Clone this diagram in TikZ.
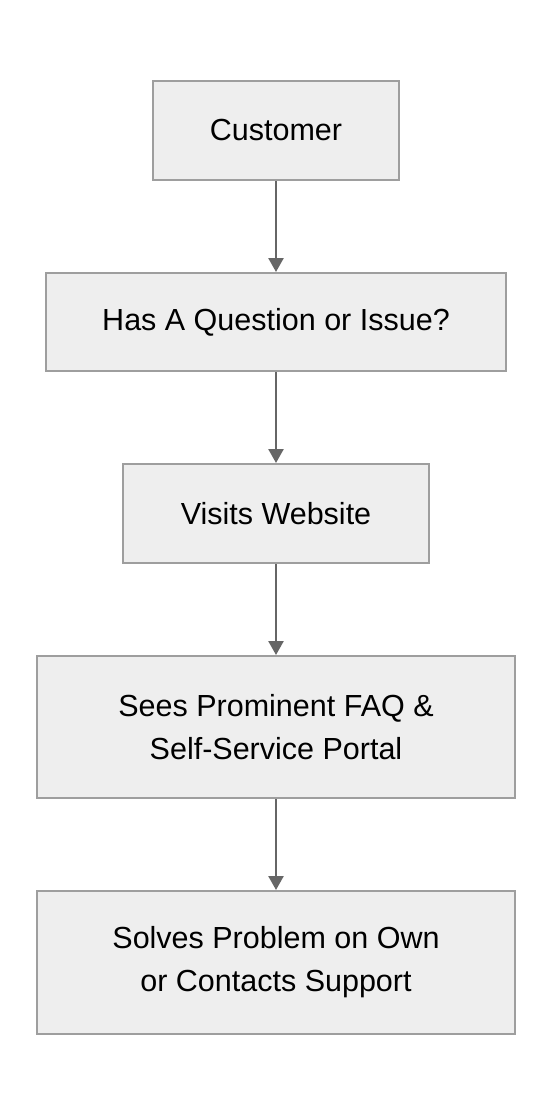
\documentclass[tikz,border=0pt]{standalone}
\usepackage{fontspec}
\setmainfont{Liberation Sans}
\usetikzlibrary{arrows.meta}
\definecolor{boxfill}{HTML}{EEEEEE}
\definecolor{boxline}{HTML}{9E9E9E}
\definecolor{arrowline}{HTML}{666666}
\def\stepnode{\node[draw=boxline,fill=boxfill,line width=2pt,align=center,inner sep=0pt,font=\fontsize{30.5}{43}\selectfont]}
\def\drawflow{\draw[color=arrowline, line width=2.5pt, -{Triangle[width=15pt,length=14pt]}]}

\begin{document}
\begin{tikzpicture}[x=1pt,y=-1pt]
\useasboundingbox (0,0) rectangle (552,1116);

% ---------- the steps, top to bottom
\stepnode[minimum width=246pt,minimum height=99pt] (customer) at (276,130.5) {Customer};
\stepnode[minimum width=460pt,minimum height=98pt] (question) at (276,322) {Has A Question or Issue?};
\stepnode[minimum width=306pt,minimum height=99pt] (website) at (276,513.5) {Visits Website};
\stepnode[minimum width=478pt,minimum height=142pt] (faq) at (276,727) {Sees Prominent FAQ \&\\ Self-Service Portal};
\stepnode[minimum width=478pt,minimum height=143pt] (solve) at (276,962.5) {Solves Problem on Own\\ or Contacts Support};

% ---------- arrows between the steps
\drawflow (customer) to (question);
\drawflow (question) to (website);
\drawflow (website) to (faq);
\drawflow (faq) to (solve);
\end{tikzpicture}
\end{document}
